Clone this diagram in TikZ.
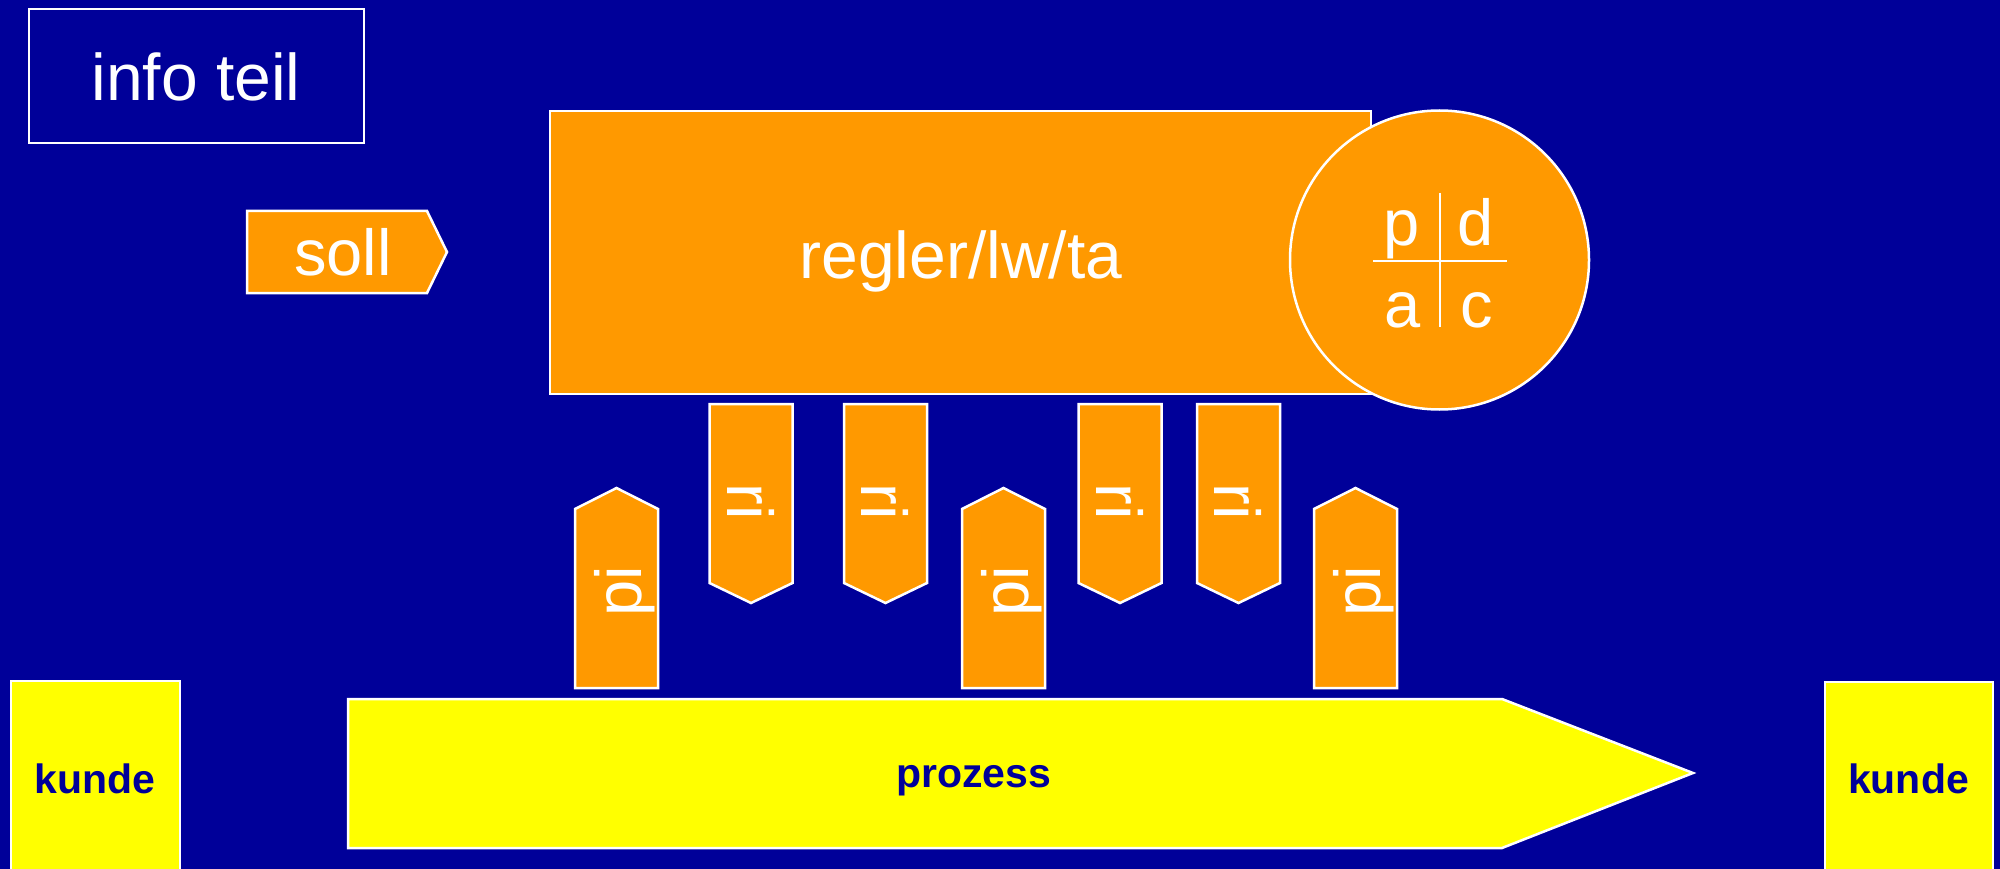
\documentclass[tikz,border=0pt]{standalone}
\usepackage{fontspec}
\setmainfont{Liberation Sans}
\definecolor{bg}{HTML}{000099}
\definecolor{org}{HTML}{FF9900}
\definecolor{yel}{HTML}{FFFF00}
\begin{document}
\begin{tikzpicture}[x=1pt,y=-1pt,
  shp/.style={draw=white,line width=2.5pt,line join=miter},
  orangeshape/.style={shp,fill=org},
  yelshape/.style={shp,fill=yel},
  lbl/.style={text=white,inner sep=0pt,font=\fontsize{65}{78}\selectfont},
  biglbl/.style={lbl,font=\fontsize{66}{79}\selectfont},
  klbl/.style={text=bg,inner sep=0pt,font=\fontsize{41}{49}\selectfont\bfseries},
]
\useasboundingbox (0,0) rectangle (2000,869);
\fill[bg] (0,0) rectangle (2000,869);
\clip (0,0) rectangle (2000,869);

% info teil
\draw[shp] (29,9) rectangle (364,143);
\node[biglbl,anchor=base] (info) at (196,101) {info teil};

% soll
\draw[orangeshape] (247,211) -- (427,211) -- (447,252) -- (427,293) -- (247,293) -- cycle;
\node[lbl,anchor=base] (soll) at (343,276) {soll};

% regler box and circle
\draw[orangeshape] (550,111) rectangle (1371,394);
\node[biglbl,anchor=base] (regler) at (961,278) {regler/lw/ta};
\draw[orangeshape] (1439.5,260) circle[radius=149.5pt];
\draw[white,line width=2pt] (1373,261) -- (1507,261);
\draw[white,line width=2pt] (1440,193) -- (1440,327);
\node[lbl,anchor=base] (p) at (1402,245) {p};
\node[lbl,anchor=base] (d) at (1476,245) {d};
\node[lbl,anchor=base] (a) at (1403,327) {a};
\node[lbl,anchor=base] (c) at (1477,327) {c};

% pi arrows (up)
\foreach \cx [count=\i] in {616.5,1003.5,1355.5} {
  \draw[orangeshape] (\cx-41.5,509) -- (\cx,488) -- (\cx+41.5,509) -- (\cx+41.5,688) -- (\cx-41.5,688) -- cycle;
  \node[lbl,rotate=90] (pi\i) at (\cx+8,591) {pi};
}
% ri arrows (down)
\foreach \cx [count=\i] in {751,885.5,1120,1238.5} {
  \draw[orangeshape] (\cx-41.5,404) -- (\cx+41.5,404) -- (\cx+41.5,583) -- (\cx,603) -- (\cx-41.5,583) -- cycle;
  \node[lbl,rotate=-90] (ri\i) at (\cx,502) {ri};
}

% prozess
\draw[yelshape] (348,699) -- (1502,699) -- (1693,773) -- (1502,848) -- (348,848) -- cycle;
\node[klbl,anchor=base] (prozess) at (973.5,787) {prozess};

% kunde boxes
\draw[yelshape] (11,681) rectangle (180,900);
\node[klbl,anchor=base] (kunde1) at (95,793) {kunde};
\draw[yelshape] (1825,682) rectangle (1993,900);
\node[klbl,anchor=base] (kunde2) at (1908.5,793) {kunde};
\end{tikzpicture}
\end{document}
